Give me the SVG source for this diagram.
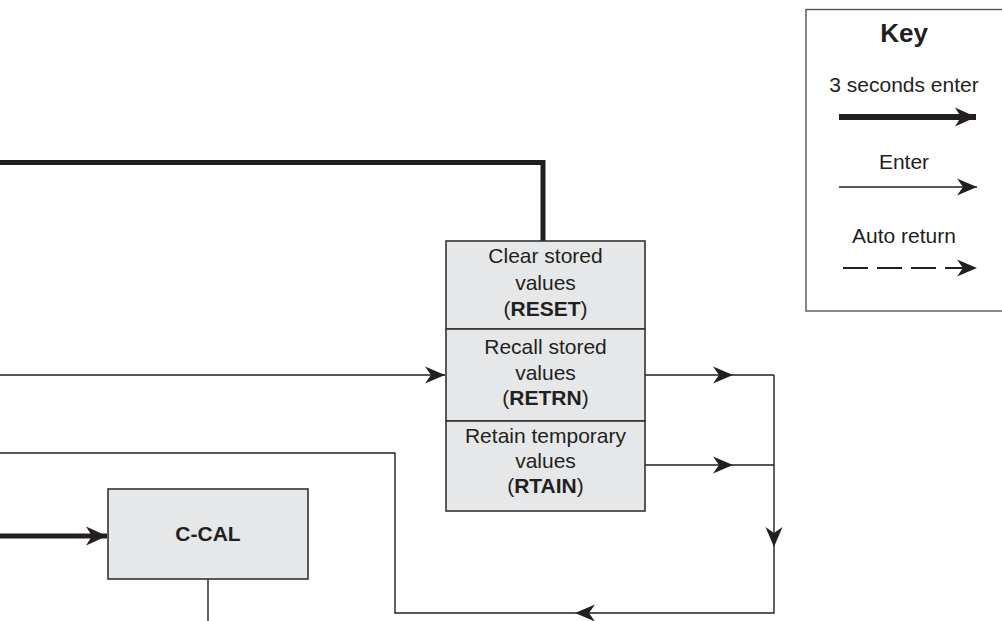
<svg xmlns="http://www.w3.org/2000/svg" width="1002" height="621" viewBox="0 0 1002 621">
<style>
  .box { fill: #e6e7e8; stroke: #333; stroke-width: 1.6; }
  .t { font-family: "Liberation Sans", Arial, sans-serif; font-size: 21px; fill: #231f20; text-anchor: middle; }
  .b { font-weight: bold; }
  .thin { fill: none; stroke: #231f20; stroke-width: 1.4; }
  .thick { fill: none; stroke: #231f20; stroke-width: 5; }
  .keybox { fill: #fff; stroke: #555; stroke-width: 1.4; }
</style>
<defs>
  <marker id="ah" markerUnits="userSpaceOnUse" markerWidth="24" markerHeight="20" refX="20" refY="10" orient="auto" viewBox="0 0 24 20">
    <path d="M20,10 L0,1.5 L6,10 L0,18.5 Z" fill="#231f20"/>
  </marker>
  <marker id="ahk" markerUnits="userSpaceOnUse" markerWidth="24" markerHeight="22" refX="21" refY="11" orient="auto" viewBox="0 0 24 22">
    <path d="M21,11 L0,1.5 L6,11 L0,20.5 Z" fill="#231f20"/>
  </marker>
</defs>
<rect width="1002" height="621" fill="#fff"/>

<g id="connectors">
  <path class="thick" d="M0,162.5 H543 V241"/>
  <path class="thin" d="M0,375 H445" marker-end="url(#ah)"/>
  <path class="thin" d="M645,375 H733" marker-end="url(#ah)"/>
  <path class="thin" d="M733,375 H774"/>
  <path class="thin" d="M645,465 H733" marker-end="url(#ah)"/>
  <path class="thin" d="M733,465 H774"/>
  <path class="thin" d="M774,375 V547" marker-end="url(#ah)"/>
  <path class="thin" d="M774,547 V613 H575" marker-end="url(#ah)"/>
  <path class="thin" d="M575,613 H395 V453 H0"/>
  <path class="thick" d="M0,536 H107" marker-end="url(#ahk)"/>
  <path class="thin" d="M208,579 V621"/>
</g>

<g id="node-reset">
  <rect class="box" x="446" y="241" width="199" height="88"/>
  <text class="t" x="545.5" y="263">Clear stored</text>
  <text class="t" x="545.5" y="290">values</text>
  <text class="t" x="545.5" y="316">(<tspan class="b">RESET</tspan>)</text>
</g>
<g id="node-retrn">
  <rect class="box" x="446" y="329" width="199" height="92"/>
  <text class="t" x="545.5" y="354">Recall stored</text>
  <text class="t" x="545.5" y="380">values</text>
  <text class="t" x="545.5" y="405">(<tspan class="b">RETRN</tspan>)</text>
</g>
<g id="node-rtain">
  <rect class="box" x="446" y="421" width="199" height="90"/>
  <text class="t" x="545.5" y="443">Retain temporary</text>
  <text class="t" x="545.5" y="468">values</text>
  <text class="t" x="545.5" y="493">(<tspan class="b">RTAIN</tspan>)</text>
</g>
<g id="node-ccal">
  <rect class="box" x="108" y="489" width="200" height="90"/>
  <text class="t b" x="208" y="541">C-CAL</text>
</g>

<g id="key">
  <rect class="keybox" x="806" y="9.5" width="200" height="301.5"/>
  <text class="t b" x="904" y="42" style="font-size:26px">Key</text>
  <text class="t" x="904" y="92">3 seconds enter</text>
  <path class="thick" d="M839,117 H976" style="stroke-width:6" marker-end="url(#ahk)"/>
  <text class="t" x="904" y="169">Enter</text>
  <path class="thin" d="M839,187 H977" marker-end="url(#ah)"/>
  <text class="t" x="904" y="243">Auto return</text>
  <path class="thin" d="M843,268 H977" style="stroke-width:2;stroke-dasharray:25 9" marker-end="url(#ah)"/>
</g>
</svg>
